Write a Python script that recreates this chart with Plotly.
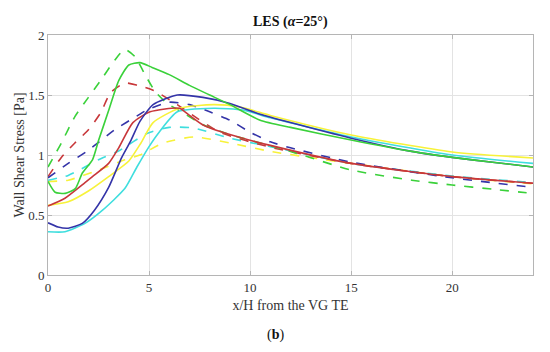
import plotly.graph_objects as go

# ---- data ----
green_solid_x = [0, 0.35, 0.85, 1.35, 1.7, 2.2, 2.5, 3.0, 3.5, 4.0, 4.55, 5.15, 6.0, 7.0, 8.0, 9.0, 10.5, 12, 15, 18, 20, 22, 24]
green_solid_y = [0.78, 0.69, 0.68, 0.72, 0.85, 0.96, 1.12, 1.37, 1.62, 1.75, 1.77, 1.73, 1.67, 1.58, 1.50, 1.42, 1.29, 1.23, 1.125, 1.03, 0.98, 0.94, 0.90]

green_dash_x = [0, 0.66, 1.33, 2.0, 2.6, 3.3, 3.8, 4.3, 4.8, 5.3, 5.9, 6.5, 7.7, 9.0, 10.5, 12, 15, 18, 20, 22, 24]
green_dash_y = [0.9, 1.1, 1.32, 1.48, 1.62, 1.79, 1.88, 1.82, 1.67, 1.53, 1.43, 1.37, 1.25, 1.17, 1.10, 1.03, 0.875, 0.79, 0.75, 0.715, 0.68]

red_solid_x = [0, 0.84, 1.83, 2.2, 3.0, 3.5, 4.2, 5.05, 6.5, 7.0, 7.67, 9.0, 11, 15, 20, 24]
red_solid_y = [0.575, 0.64, 0.77, 0.82, 0.93, 1.06, 1.27, 1.36, 1.39, 1.33, 1.25, 1.17, 1.08, 0.93, 0.82, 0.765]

red_dash_x = [0, 0.66, 1.33, 2.0, 2.6, 3.1, 3.8, 4.45, 5.2, 6.4, 7.0, 8.5, 11, 15, 18, 20, 22, 24]
red_dash_y = [0.82, 0.98, 1.1, 1.21, 1.35, 1.52, 1.6, 1.58, 1.54, 1.42, 1.35, 1.19, 1.065, 0.93, 0.86, 0.82, 0.79, 0.765]

blue_solid_x = [0, 0.5, 1.0, 1.7, 2.3, 3.0, 3.65, 4.1, 4.55, 5.2, 6.4, 7.67, 9.0, 10.5, 12, 15, 18, 20, 22, 24]
blue_solid_y = [0.435, 0.40, 0.39, 0.43, 0.54, 0.73, 0.98, 1.12, 1.28, 1.42, 1.50, 1.48, 1.43, 1.34, 1.27, 1.14, 1.03, 0.98, 0.94, 0.90]

blue_dash_x = [0, 1.0, 2.0, 3.3, 4.45, 4.9, 6.0, 7.0, 8.0, 9.0, 10.0, 11, 12, 15, 20, 24]
blue_dash_y = [0.81, 0.93, 1.04, 1.21, 1.33, 1.375, 1.44, 1.42, 1.36, 1.29, 1.19, 1.11, 1.06, 0.94, 0.81, 0.73]

yellow_solid_x = [0, 1.0, 2.0, 3.0, 4.0, 4.6, 5.2, 6.5, 8.2, 9.5, 11, 15, 20, 24]
yellow_solid_y = [0.58, 0.61, 0.70, 0.82, 0.95, 1.10, 1.27, 1.39, 1.42, 1.40, 1.33, 1.167, 1.025, 0.975]

yellow_dash_x = [0, 1.0, 2.5, 3.8, 4.55, 5.7, 7.2, 9.0, 11, 15, 20, 24]
yellow_dash_y = [0.78, 0.79, 0.875, 0.96, 1.0, 1.1, 1.15, 1.1, 1.03, 0.93, 0.82, 0.76]

cyan_solid_x = [0, 0.84, 1.83, 2.7, 3.8, 4.4, 5.0, 5.5, 6.4, 8.2, 9.65, 11, 15, 20, 24]
cyan_solid_y = [0.36, 0.36, 0.43, 0.54, 0.72, 0.90, 1.07, 1.19, 1.36, 1.39, 1.375, 1.31, 1.15, 1.0, 0.93]

cyan_dash_x = [0, 1.0, 2.5, 3.56, 4.9, 6.0, 7.2, 9.0, 11, 15, 20, 24]
cyan_dash_y = [0.79, 0.83, 0.96, 1.04, 1.18, 1.23, 1.225, 1.14, 1.07, 0.93, 0.825, 0.77]

x_ticks = [0, 5, 10, 15, 20]
y_ticks = [0, 0.5, 1, 1.5, 2]
y_tick_text = ["0", "0.5", "1", "1.5", "2"]

GREEN = "#3ad13a"
RED = "#c8373a"
BLUE = "#3434a8"
YELLOW = "#f7f23a"
CYAN = "#3fdede"

series = [
    (yellow_dash_x, yellow_dash_y, YELLOW, "dash"),
    (cyan_dash_x, cyan_dash_y, CYAN, "dash"),
    (red_dash_x, red_dash_y, RED, "dash"),
    (blue_dash_x, blue_dash_y, BLUE, "dash"),
    (green_dash_x, green_dash_y, GREEN, "dash"),
    (yellow_solid_x, yellow_solid_y, YELLOW, "solid"),
    (cyan_solid_x, cyan_solid_y, CYAN, "solid"),
    (red_solid_x, red_solid_y, RED, "solid"),
    (blue_solid_x, blue_solid_y, BLUE, "solid"),
    (green_solid_x, green_solid_y, GREEN, "solid"),
]

fig = go.Figure()
for xs, ys, col, dash in series:
    fig.add_trace(go.Scatter(
        x=xs, y=ys, mode="lines",
        line=dict(color=col, width=1.6, dash=dash, shape="spline", smoothing=0.6),
        showlegend=False, hoverinfo="skip"))

FONT = "Liberation Serif"
axis_common = dict(
    showgrid=True, gridcolor="#e3e3e3", gridwidth=1,
    showline=True, linecolor="#b5b5b5", linewidth=1, mirror="ticks",
    ticks="inside", ticklen=4, tickcolor="#b5b5b5",
    zeroline=False, automargin=False,
    tickfont=dict(family=FONT, size=13, color="#333333"),
)

# the page body adds an ~8px offset; plot area lands at x 48..533, y 35..275
fig.update_layout(
    width=534, height=336,
    margin=dict(l=40, r=9, t=27, b=69),
    paper_bgcolor="white", plot_bgcolor="white",
    xaxis=dict(range=[0, 24], tickvals=x_ticks, ticktext=[str(v) for v in x_ticks],
               title=dict(text="x/H from the VG TE", font=dict(family=FONT, size=14, color="#333333"), standoff=6),
               **axis_common),
    yaxis=dict(range=[0, 2], tickvals=y_ticks, ticktext=y_tick_text,
               title=dict(text="Wall Shear Stress [Pa]", font=dict(family=FONT, size=14, color="#333333"), standoff=0),
               **axis_common),
)

fig.add_annotation(text="<b>LES (<i>α</i>=25°)</b>", x=0.5, y=1, xref="paper", yref="paper",
                   yanchor="bottom", xanchor="center", yshift=3, showarrow=False,
                   font=dict(family=FONT, size=14, color="#111111"))
fig.add_annotation(text="(<b>b</b>)", x=(275 - 48) / 485, y=-(335 - 275) / 240,
                   xref="paper", yref="paper", xanchor="center", yanchor="middle",
                   showarrow=False, font=dict(family=FONT, size=14, color="#111111"))

fig.write_html("out.html")
